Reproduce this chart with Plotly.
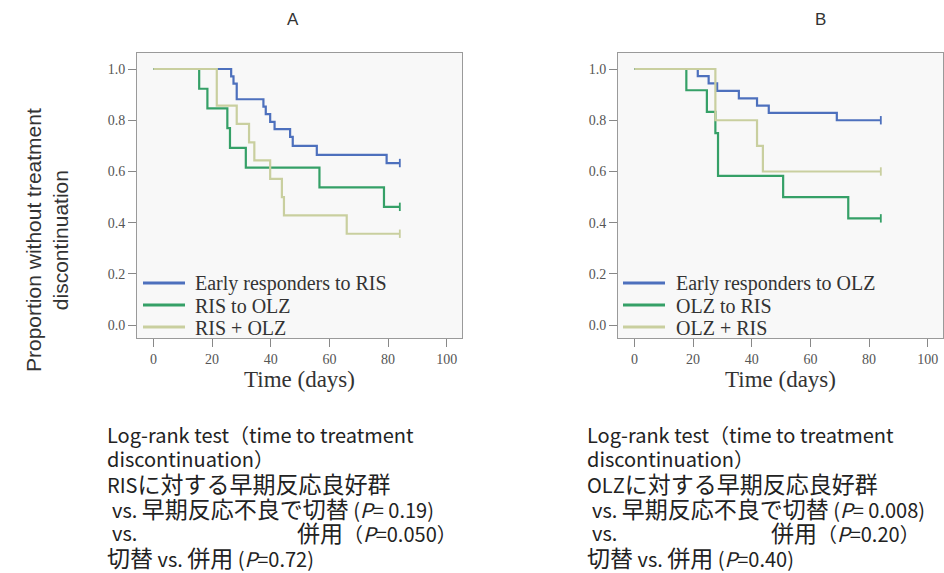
import re
import plotly.graph_objects as go

# ---------------- data ----------------
A_early_t = [0, 26.5, 27.3, 28.4, 37.5, 38.3, 39.8, 41.3, 46.6, 47.5, 55.7, 79.5, 84]
A_early_s = [1.0, 0.971, 0.943, 0.882, 0.853, 0.824, 0.794, 0.765, 0.735, 0.700, 0.665, 0.633, 0.633]
A_switch_t = [0, 15.6, 18.4, 25.2, 26.1, 31.5, 56.6, 78.6, 84]
A_switch_s = [1.0, 0.923, 0.846, 0.769, 0.692, 0.615, 0.538, 0.462, 0.462]
A_combo_t = [0, 21.6, 28.4, 32.6, 34.4, 39.8, 43.8, 44.5, 65.9, 84]
A_combo_s = [1.0, 0.857, 0.786, 0.714, 0.643, 0.571, 0.500, 0.429, 0.357, 0.357]

B_early_t = [0, 21.6, 25.3, 28.2, 35.6, 41.8, 45.8, 69.0, 84]
B_early_s = [1.0, 0.972, 0.944, 0.915, 0.885, 0.857, 0.829, 0.800, 0.800]
B_switch_t = [0, 17.7, 24.7, 27.6, 28.5, 50.7, 72.9, 84]
B_switch_s = [1.0, 0.917, 0.833, 0.750, 0.583, 0.500, 0.417, 0.417]
B_combo_t = [0, 27.6, 41.8, 43.8, 84]
B_combo_s = [1.0, 0.8, 0.7, 0.6, 0.6]

A_names = ["Early responders to RIS", "RIS to OLZ", "RIS + OLZ"]
B_names = ["Early responders to OLZ", "OLZ to RIS", "OLZ + RIS"]
colors = ["#4d70bd", "#35a067", "#c9cf9f"]

x_ticks = [0, 20, 40, 60, 80, 100]
y_ticks = [0.0, 0.2, 0.4, 0.6, 0.8, 1.0]

A_text = [
    "Log-rank test（time to treatment",
    "discontinuation）",
    "RISに対する早期反応良好群",
    "vs. 早期反応不良で切替 (<i>P</i>= 0.19)",
    "vs.",
    "併用（<i>P</i>=0.050）",
    "切替 vs. 併用 (<i>P</i>=0.72)",
]
B_text = [
    "Log-rank test（time to treatment",
    "discontinuation）",
    "OLZに対する早期反応良好群",
    "vs. 早期反応不良で切替 (<i>P</i>= 0.008)",
    "vs.",
    "併用（<i>P</i>=0.20）",
    "切替 vs. 併用 (<i>P</i>=0.40)",
]

W, H = 944, 573
def px(x):
    return x / W
def py(y):
    return 1 - y / H

SERIF = "Liberation Serif, DejaVu Serif, serif"
SANS = "Liberation Sans, Arial, sans-serif"
CJK_RE = re.compile(r"([\u3040-\u30ff\u4e00-\u9fff]+)")

def big_cjk(s, size=23):
    return CJK_RE.sub(lambda m: f'<span style="font-size:{size}px">{m.group(1)}</span>', s)

fig = go.Figure()

panels = [
    ("x", "y", A_names, 143, 193,
     [(A_early_t, A_early_s), (A_switch_t, A_switch_s), (A_combo_t, A_combo_s)]),
    ("x2", "y2", B_names, 623, 674,
     [(B_early_t, B_early_s), (B_switch_t, B_switch_s), (B_combo_t, B_combo_s)]),
]
shapes = []
ann = []
leg_y = [283, 305, 327]
for xa, ya, names, lx, tx, series in panels:
    for (t, s), name, c in zip(series, names, colors):
        fig.add_trace(go.Scatter(
            x=t, y=s, mode="lines", line=dict(color=c, width=2.2, shape="hv"),
            name=name, xaxis=xa, yaxis=ya, showlegend=False))
    for (t, s), name, c in zip(series, names, colors):
        fig.add_trace(go.Scatter(
            x=[t[-1]], y=[s[-1]], mode="markers",
            marker=dict(symbol="line-ns-open", size=6, color=c, line=dict(color=c, width=1.8)),
            xaxis=xa, yaxis=ya, showlegend=False, hoverinfo="skip"))
    # legend (drawn in the plot's lower-left corner)
    for name, c, yy in zip(names, colors, leg_y):
        shapes.append(dict(type="line", xref="paper", yref="paper",
                           x0=px(lx), x1=px(lx + 42), y0=py(yy), y1=py(yy),
                           line=dict(color=c, width=3)))
        ann.append(dict(text=name, x=px(tx), y=py(yy + 1), xref="paper", yref="paper",
                        xanchor="left", yanchor="middle", showarrow=False,
                        font=dict(family=SERIF, size=20, color="#333")))

tickfont = dict(family=SERIF, size=14, color="#555")
axis_common = dict(showline=True, mirror=True, linecolor="#9a9a9a", linewidth=1,
                   ticks="outside", ticklen=8, tickcolor="#888", tickwidth=1,
                   showgrid=False, zeroline=False, tickfont=tickfont)

xtitle = dict(text="Time (days)", font=dict(family=SERIF, size=23, color="#333"), standoff=2)

fig.update_layout(
    width=W, height=H,
    margin=dict(l=0, r=0, t=0, b=0),
    paper_bgcolor="white",
    plot_bgcolor="#f8f8f8",
    showlegend=False,
    xaxis=dict(domain=[px(137), px(462)], range=[-5.6, 105.2], tickvals=x_ticks,
               anchor="y", title=xtitle, **axis_common),
    yaxis=dict(domain=[py(338), py(53)], range=[-0.05, 1.0625], tickvals=y_ticks,
               tickformat=".1f", anchor="x", **axis_common),
    xaxis2=dict(domain=[px(618), px(943)], range=[-5.6, 105.2], tickvals=x_ticks,
                anchor="y2", title=xtitle, **axis_common),
    yaxis2=dict(domain=[py(338), py(53)], range=[-0.05, 1.0625], tickvals=y_ticks,
                tickformat=".1f", anchor="x2", **axis_common),
)

ann.append(dict(text="A", x=px(293), y=py(19), xref="paper", yref="paper", showarrow=False,
                xanchor="center", yanchor="middle",
                font=dict(family=SANS, size=17, color="#333")))
ann.append(dict(text="B", x=px(820), y=py(19), xref="paper", yref="paper", showarrow=False,
                xanchor="center", yanchor="middle",
                font=dict(family=SANS, size=17, color="#333")))
ann.append(dict(text="Proportion without treatment<br>discontinuation", textangle=-90,
                x=px(47), y=py(240), xref="paper", yref="paper", showarrow=False,
                xanchor="center", yanchor="middle",
                font=dict(family=SANS, size=21, color="#333")))

jp = dict(family="Noto Sans CJK JP, sans-serif", size=20, color="#222")
line_y = [434, 458, 483, 508, 532, 532, 557]
for texts, x0, xind, xright in [(A_text, 105, 110, 459), (B_text, 585, 590, 922)]:
    for i, (t, yy) in enumerate(zip(texts, line_y)):
        if i in (3, 4):
            x, xa = xind, "left"
        elif i == 5:
            x, xa = xright, "right"
        else:
            x, xa = x0, "left"
        ann.append(dict(text=big_cjk(t), x=px(x), y=py(yy), xref="paper", yref="paper",
                        xanchor=xa, yanchor="middle", showarrow=False, font=jp))

fig.update_layout(annotations=ann, shapes=shapes)
fig.write_html("out.html", config={"displayModeBar": False},
               post_script="document.body.style.margin='0';")
